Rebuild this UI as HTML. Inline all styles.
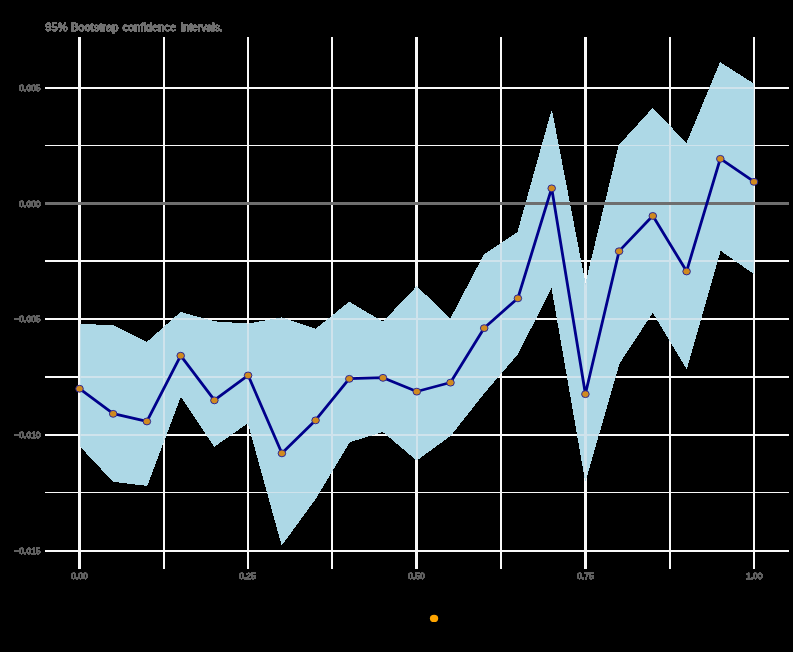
<!DOCTYPE html>
<html><head><meta charset="utf-8"><title>chart</title>
<style>
html,body{margin:0;padding:0;background:#000;}
body{width:793px;height:652px;overflow:hidden;font-family:"Liberation Sans",sans-serif;}
svg{display:block}
text{font-family:"Liberation Sans",sans-serif;}
.ax{font-size:8.5px;fill:#606060;stroke:#606060;stroke-width:0.3px;}
.ti{font-size:11.1px;fill:#707070;stroke:#707070;stroke-width:0.35px;}
</style></head><body>
<svg width="793" height="652" viewBox="0 0 793 652">
<defs><filter id="thr" x="-5%" y="-20%" width="110%" height="140%" color-interpolation-filters="sRGB"><feComponentTransfer><feFuncA type="linear" slope="40" intercept="0"/></feComponentTransfer></filter><clipPath id="rc"><polygon points="80.4,324.2 113.2,325.9 146.9,342.5 180.7,312.5 214.4,321.8 248.1,324.1 281.9,317.9 315.6,329.3 349.3,302.3 383.0,322.3 416.8,286.8 450.5,319.3 484.2,254.8 517.9,232.3 551.7,111.3 585.4,285.5 619.1,145.5 652.8,108.5 686.6,144.0 720.3,62.8 753.6,84.0 753.6,273.3 720.3,250.0 686.6,368.1 652.8,311.9 619.1,363.3 585.4,480.1 551.7,286.2 517.9,353.5 484.2,392.7 450.5,435.3 416.8,460.0 383.0,431.5 349.3,441.9 315.6,498.3 281.9,544.5 248.1,422.5 214.4,446.2 180.7,395.9 146.9,485.4 113.2,481.3 80.4,446.3"/></clipPath></defs>
<rect width="793" height="652" fill="#000"/>
<g shape-rendering="crispEdges"><rect x="45" y="87" width="744" height="2" fill="#f8f8f8"/><rect x="45" y="145" width="744" height="1" fill="#f8f8f8"/><rect x="45" y="260" width="744" height="2" fill="#f8f8f8"/><rect x="45" y="318" width="744" height="2" fill="#f8f8f8"/><rect x="45" y="376" width="744" height="2" fill="#f8f8f8"/><rect x="45" y="434" width="744" height="2" fill="#f8f8f8"/><rect x="45" y="492" width="744" height="1" fill="#f8f8f8"/><rect x="45" y="550" width="744" height="2" fill="#f8f8f8"/><rect x="78" y="37" width="3" height="531.7" fill="#f8f8f8"/><rect x="163" y="37" width="2" height="531.7" fill="#f8f8f8"/><rect x="247" y="37" width="2" height="531.7" fill="#f8f8f8"/><rect x="331" y="37" width="2" height="531.7" fill="#f8f8f8"/><rect x="415.4" y="37" width="2.6" height="531.7" fill="#f8f8f8"/><rect x="500" y="37" width="2" height="531.7" fill="#f8f8f8"/><rect x="584" y="37" width="3" height="531.7" fill="#f8f8f8"/><rect x="669" y="37" width="2" height="531.7" fill="#f8f8f8"/><rect x="753" y="37" width="2" height="531.7" fill="#f8f8f8"/></g>
<polygon points="80.4,324.2 113.2,325.9 146.9,342.5 180.7,312.5 214.4,321.8 248.1,324.1 281.9,317.9 315.6,329.3 349.3,302.3 383.0,322.3 416.8,286.8 450.5,319.3 484.2,254.8 517.9,232.3 551.7,111.3 585.4,285.5 619.1,145.5 652.8,108.5 686.6,144.0 720.3,62.8 753.6,84.0 753.6,273.3 720.3,250.0 686.6,368.1 652.8,311.9 619.1,363.3 585.4,480.1 551.7,286.2 517.9,353.5 484.2,392.7 450.5,435.3 416.8,460.0 383.0,431.5 349.3,441.9 315.6,498.3 281.9,544.5 248.1,422.5 214.4,446.2 180.7,395.9 146.9,485.4 113.2,481.3 80.4,446.3" fill="#add8e6" stroke="#add8e6" stroke-width="1" stroke-linejoin="round" shape-rendering="crispEdges"/>
<g clip-path="url(#rc)" shape-rendering="crispEdges"><rect x="45" y="87" width="744" height="2" fill="#cfe3ec"/><rect x="45" y="145" width="744" height="1" fill="#cfe3ec"/><rect x="45" y="260" width="744" height="2" fill="#cfe3ec"/><rect x="45" y="318" width="744" height="2" fill="#cfe3ec"/><rect x="45" y="376" width="744" height="2" fill="#cfe3ec"/><rect x="45" y="434" width="744" height="2" fill="#cfe3ec"/><rect x="45" y="492" width="744" height="1" fill="#cfe3ec"/><rect x="45" y="550" width="744" height="2" fill="#cfe3ec"/><rect x="78" y="37" width="3" height="531.7" fill="#cfe3ec"/><rect x="163" y="37" width="2" height="531.7" fill="#cfe3ec"/><rect x="247" y="37" width="2" height="531.7" fill="#cfe3ec"/><rect x="331" y="37" width="2" height="531.7" fill="#cfe3ec"/><rect x="416" y="37" width="2" height="531.7" fill="#cfe3ec"/><rect x="500" y="37" width="2" height="531.7" fill="#cfe3ec"/><rect x="584" y="37" width="3" height="531.7" fill="#cfe3ec"/><rect x="669" y="37" width="2" height="531.7" fill="#cfe3ec"/><rect x="753" y="37" width="2" height="531.7" fill="#cfe3ec"/></g>
<rect x="45" y="202" width="744" height="3" fill="#6e6e6e" shape-rendering="crispEdges"/>
<polyline points="79.5,388.6 113.2,413.7 146.9,421.3 180.7,355.6 214.4,400.2 248.1,375.3 281.9,453.2 315.6,420.2 349.3,378.7 383.0,377.7 416.8,391.5 450.5,382.5 484.2,328.0 517.9,298.2 551.7,188.2 585.4,394.0 619.1,251.1 652.8,215.8 686.6,271.3 720.3,158.7 754.0,181.7" fill="none" stroke="#00008b" stroke-width="2.8" stroke-linejoin="round" stroke-linecap="butt"/>
<ellipse cx="79.5" cy="388.75" rx="3.8" ry="3.45" fill="#d08a1f" stroke="#1c1c9c" stroke-width="0.9"/><ellipse cx="113.2" cy="413.85" rx="3.8" ry="3.45" fill="#d08a1f" stroke="#1c1c9c" stroke-width="0.9"/><ellipse cx="146.9" cy="421.45" rx="3.8" ry="3.45" fill="#d08a1f" stroke="#1c1c9c" stroke-width="0.9"/><ellipse cx="180.7" cy="355.75" rx="3.8" ry="3.45" fill="#d08a1f" stroke="#1c1c9c" stroke-width="0.9"/><ellipse cx="214.4" cy="400.35" rx="3.8" ry="3.45" fill="#d08a1f" stroke="#1c1c9c" stroke-width="0.9"/><ellipse cx="248.1" cy="375.45" rx="3.8" ry="3.45" fill="#d08a1f" stroke="#1c1c9c" stroke-width="0.9"/><ellipse cx="281.9" cy="453.35" rx="3.8" ry="3.45" fill="#d08a1f" stroke="#1c1c9c" stroke-width="0.9"/><ellipse cx="315.6" cy="420.35" rx="3.8" ry="3.45" fill="#d08a1f" stroke="#1c1c9c" stroke-width="0.9"/><ellipse cx="349.3" cy="378.85" rx="3.8" ry="3.45" fill="#d08a1f" stroke="#1c1c9c" stroke-width="0.9"/><ellipse cx="383.0" cy="377.85" rx="3.8" ry="3.45" fill="#d08a1f" stroke="#1c1c9c" stroke-width="0.9"/><ellipse cx="416.8" cy="391.65" rx="3.8" ry="3.45" fill="#d08a1f" stroke="#1c1c9c" stroke-width="0.9"/><ellipse cx="450.5" cy="382.65" rx="3.8" ry="3.45" fill="#d08a1f" stroke="#1c1c9c" stroke-width="0.9"/><ellipse cx="484.2" cy="328.15" rx="3.8" ry="3.45" fill="#d08a1f" stroke="#1c1c9c" stroke-width="0.9"/><ellipse cx="517.9" cy="298.35" rx="3.8" ry="3.45" fill="#d08a1f" stroke="#1c1c9c" stroke-width="0.9"/><ellipse cx="551.7" cy="188.35" rx="3.8" ry="3.45" fill="#d08a1f" stroke="#1c1c9c" stroke-width="0.9"/><ellipse cx="585.4" cy="394.15" rx="3.8" ry="3.45" fill="#d08a1f" stroke="#1c1c9c" stroke-width="0.9"/><ellipse cx="619.1" cy="251.25" rx="3.8" ry="3.45" fill="#d08a1f" stroke="#1c1c9c" stroke-width="0.9"/><ellipse cx="652.8" cy="215.95" rx="3.8" ry="3.45" fill="#d08a1f" stroke="#1c1c9c" stroke-width="0.9"/><ellipse cx="686.6" cy="271.45" rx="3.8" ry="3.45" fill="#d08a1f" stroke="#1c1c9c" stroke-width="0.9"/><ellipse cx="720.3" cy="158.85" rx="3.8" ry="3.45" fill="#d08a1f" stroke="#1c1c9c" stroke-width="0.9"/><ellipse cx="754.0" cy="181.85" rx="3.8" ry="3.45" fill="#d08a1f" stroke="#1c1c9c" stroke-width="0.9"/>
<g filter="url(#thr)"><text transform="translate(45.35,30.7) scale(1,1.06)" text-anchor="start" class="ti">95%</text><text transform="translate(70.9,30.7) scale(1,1.06)" text-anchor="start" class="ti">Bootstrap</text><text transform="translate(122.45,30.7) scale(1,1.06)" text-anchor="start" class="ti">confidence</text><text transform="translate(181.05,30.7) scale(0.94,1.06)" text-anchor="start" class="ti">intervals.</text>
<text transform="translate(40.6,91.1) scale(1,1.0)" text-anchor="end" class="ax">0.005</text><text transform="translate(40.6,206.6) scale(1,1.0)" text-anchor="end" class="ax">0.000</text><text transform="translate(40.6,322.1) scale(1,1.0)" text-anchor="end" class="ax">−0.005</text><text transform="translate(40.6,438.1) scale(1,1.0)" text-anchor="end" class="ax">−0.010</text><text transform="translate(40.6,554.1) scale(1,1.0)" text-anchor="end" class="ax">−0.015</text><text transform="translate(79.5,578.9) scale(1,1.12)" text-anchor="middle" class="ax">0.00</text><text transform="translate(247.5,578.9) scale(1,1.12)" text-anchor="middle" class="ax">0.25</text><text transform="translate(416.5,578.9) scale(1,1.12)" text-anchor="middle" class="ax">0.50</text><text transform="translate(585.5,578.9) scale(1,1.12)" text-anchor="middle" class="ax">0.75</text><text transform="translate(754.2,578.9) scale(1,1.12)" text-anchor="middle" class="ax">1.00</text></g>
<ellipse cx="434.05" cy="618.4" rx="4.15" ry="3.7" fill="#ffa500"/>
</svg>
</body></html>
